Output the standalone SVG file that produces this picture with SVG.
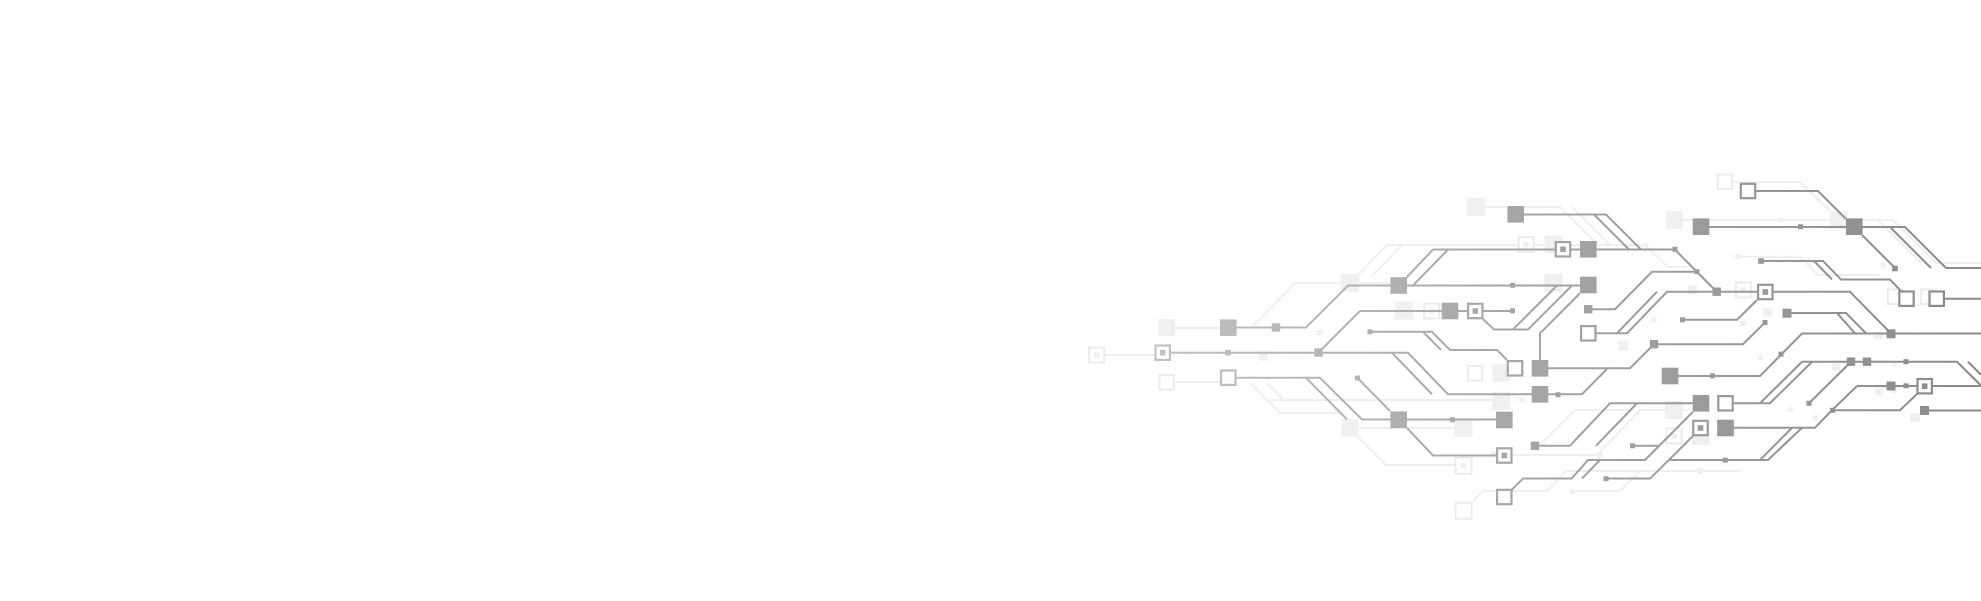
<svg xmlns="http://www.w3.org/2000/svg" width="1981" height="601" viewBox="0 0 1981 601">
<defs>
<linearGradient id="g" gradientUnits="userSpaceOnUse" x1="1150" y1="0" x2="1981" y2="0">
<stop offset="0" stop-color="#c3c3c3"/>
<stop offset="0.42" stop-color="#a7a7a7"/>
<stop offset="1" stop-color="#8a8a8a"/>
</linearGradient>
<style>
.t{fill:none;stroke:url(#g);stroke-width:2}
.lt{fill:none;stroke:#efefef;stroke-width:2}
.f{fill:url(#g)}
.o{fill:#fff;stroke:url(#g);stroke-width:2.2}
.lf{fill:#f0f0f0}
.lo{fill:#fff;stroke:#ececec;stroke-width:2}
</style>
</defs>
<rect width="1981" height="601" fill="#fff"/>
<g id="light-traces">
<path class="lt" d="M1485,207H1507M1524,207H1560L1598,245M1572,207L1610,245"/>
<path class="lt" d="M1387,245H1644M1645,245L1668,267H1687M1387,245L1358,275M1402,245L1372,276"/>
<path class="lt" d="M1390,283.3H1295L1252,327"/>
<path class="lt" d="M1733,182H1800L1830,211M1683,220H1830"/>
<path class="lt" d="M1847,220H1893L1936,263H1981M1878,220L1921,263"/>
<path class="lt" d="M1737,256.7H1800L1818,275H1880"/>
<path class="lt" d="M1105,355H1155M1175,328H1220M1175,382H1220"/>
<path class="lt" d="M1250,383L1280,413H1341M1267,383L1283,399"/>
<path class="lt" d="M1270,400H1492M1359,428H1455M1358,437L1386,465H1455"/>
<path class="lt" d="M1575,410H1633M1575,410L1541,444"/>
<path class="lt" d="M1512,491H1547L1566,471H1740M1575,491H1620L1641,470"/>
<path class="lt" d="M1490,455H1597L1640,410H1690M1472,502L1483,491H1496"/>
</g>
<g id="light-pads">
<rect class="lo" x="1717.8" y="174.5" width="14.4" height="14.4"/>
<rect class="lf" x="1467" y="198" width="18" height="18"/>
<rect class="lf" x="1665.7" y="211.2" width="17.6" height="17.6"/>
<rect class="lf" x="1830" y="211.3" width="17.4" height="17.4"/>
<rect class="lf" x="1778.8" y="217.8" width="4.5" height="4.5"/>
<rect class="lo" x="1518.5" y="237" width="15" height="15"/><rect class="lf" x="1523.2" y="241.7" width="5.6" height="5.6"/>
<rect class="lf" x="1544.5" y="235.5" width="18" height="18"/>
<rect class="lf" x="1643.8" y="242.8" width="4.5" height="4.5"/>
<rect class="lf" x="1341" y="274" width="18" height="18"/>
<rect class="lf" x="1544.5" y="274" width="18" height="18"/>
<rect class="lf" x="1735" y="254" width="5" height="5"/>
<rect class="lo" x="1735.8" y="282.5" width="15" height="15"/><rect class="lf" x="1740.5" y="287.2" width="5.6" height="5.6"/>
<rect class="lf" x="1688" y="285.5" width="9" height="9"/>
<rect class="lf" x="1880.8" y="262.5" width="5" height="5"/>
<rect class="lo" x="1887.8" y="289.5" width="14.4" height="14.4"/>
<rect class="lo" x="1921.1" y="289.5" width="14.4" height="14.4"/>
<rect class="lf" x="1395" y="301.5" width="18" height="18"/>
<rect class="lo" x="1424.2" y="303.5" width="15" height="15"/><rect class="lf" x="1428.9" y="308.2" width="5.6" height="5.6"/>
<rect class="lf" x="1316.5" y="330" width="5" height="5"/>
<rect class="lf" x="1158.2" y="319.2" width="17" height="17"/>
<rect class="lo" x="1089.2" y="347.5" width="15" height="15"/><rect class="lf" x="1093.9" y="352.2" width="5.6" height="5.6"/>
<rect class="lf" x="1258.8" y="351.5" width="9" height="9"/>
<rect class="lo" x="1159.5" y="375.1" width="14.4" height="14.4"/>
<rect class="lo" x="1467.8" y="366.1" width="14.4" height="14.4"/>
<rect class="lf" x="1492.6" y="364.2" width="17.5" height="17.5"/>
<rect class="lf" x="1492.3" y="391.8" width="18" height="18"/>
<rect class="lf" x="1341.2" y="419.2" width="17.5" height="17.5"/>
<rect class="lf" x="1454.5" y="419" width="18" height="18"/>
<rect class="lo" x="1455.5" y="457.8" width="16" height="16"/><rect class="lf" x="1460.7" y="463" width="5.6" height="5.6"/>
<rect class="lf" x="1491.5" y="451.5" width="5" height="5"/>
<rect class="lf" x="1618.3" y="340.8" width="10" height="10"/>
<rect class="lf" x="1651.5" y="317.5" width="5" height="5"/>
<rect class="lf" x="1763.2" y="308.2" width="8.5" height="8.5"/>
<rect class="lf" x="1665" y="401" width="18" height="18"/>
<rect class="lo" x="1666.5" y="428.5" width="15" height="15"/><rect class="lf" x="1671.2" y="433.2" width="5.6" height="5.6"/>
<rect class="lf" x="1691.7" y="427" width="17.6" height="18"/>
<rect class="lf" x="1597" y="452" width="6" height="6"/>
<rect class="lf" x="1697" y="468" width="6" height="6"/>
<rect class="lf" x="1570" y="489" width="5" height="5"/>
<rect class="lo" x="1455.5" y="502.8" width="16" height="16"/>
<rect class="lf" x="1519" y="397.8" width="4.5" height="4.5"/>
<rect class="lf" x="1740" y="320.7" width="6" height="5.3"/>
<rect class="lf" x="1758.3" y="355" width="5" height="5"/>
<rect class="lf" x="1874.3" y="331.7" width="9" height="7.6"/>
<rect class="lf" x="1831.7" y="363.3" width="8.3" height="7"/>
<rect class="lf" x="1891.7" y="361.7" width="5" height="5"/>
<rect class="lf" x="1875" y="387.3" width="8.3" height="7.7"/>
<rect class="lf" x="1891.7" y="388" width="5" height="5"/>
<rect class="lf" x="1910" y="413.3" width="10" height="8.4"/>
<rect class="lf" x="1788" y="407.3" width="5" height="5"/>
<rect class="lf" x="1813" y="415" width="5" height="5"/>
</g>
<g id="connectors">
<path class="t" d="M1756,191H1818L1846,219"/>
<path class="t" d="M1709,227H1846"/>
<path class="t" d="M1854,227H1905L1946,268H1981M1890,227L1931,268"/>
<path class="t" d="M1862,235L1895,268"/>
<path class="t" d="M1761,261H1823L1841,279.5H1890L1901,291M1814,261L1832,279.5"/>
<path class="t" d="M1937,298.7H1981"/>
<path class="t" d="M1516,214.5H1606L1641,249.5M1594,214.5L1629,249.5"/>
<path class="t" d="M1433,249.5H1675L1697,272L1717,292"/>
<path class="t" d="M1433,249.5L1399,285.5M1448,249.5L1413,285.5"/>
<path class="t" d="M1228,327.5H1306L1348,285.5H1588"/>
<path class="t" d="M1513,329.5L1557,285.5M1483,319L1494,329.5H1528L1572,285.5"/>
<path class="t" d="M1360,311H1512M1360,311L1318.5,352.5"/>
<path class="t" d="M1163,352.7H1408L1448,394.3H1582L1607,369M1392,352.7L1432,394.3"/>
<path class="t" d="M1370,331.7H1432L1450,350H1497L1507,360M1423,331.7L1441,350"/>
<path class="t" d="M1540,368.3V333.3L1580,293.3M1540,368.3H1630L1654,344.2H1743L1765,322.5"/>
<path class="t" d="M1588,333.3H1627L1667,291.7H1850L1891,333.5M1617,333.3L1657,291.7"/>
<path class="t" d="M1588,309.3H1615L1652,271.7H1697"/>
<path class="t" d="M1682.5,319.8H1737L1757,300"/>
<path class="t" d="M1787,313H1846L1866,333.3M1837,313L1855,333.3"/>
<path class="t" d="M1670,376H1760L1802,333.5H1981"/>
<path class="t" d="M1802,361.7H1957L1981,385.5M1968,361.7L1981,374.7"/>
<path class="t" d="M1725,403.3H1770L1812,361.7M1760,403.3L1802,361.7M1809,403.3L1851,361.7"/>
<path class="t" d="M1857,386H1981M1857,386L1832,410.3H1900L1917,394M1832,410.3L1815,427.7H1725"/>
<path class="t" d="M1924.5,410.6H1981"/>
<path class="t" d="M1670,460H1768L1802,427.7M1760,460L1792,427.7"/>
<path class="t" d="M1228,377.7H1320L1362,419.5H1504M1306,377.7L1347,419.5"/>
<path class="t" d="M1357.5,378L1390,411"/>
<path class="t" d="M1407,428L1433,455.5H1504"/>
<path class="t" d="M1701,403.3H1610L1570,445.8H1535M1637,403.3L1596,445.8"/>
<path class="t" d="M1693,411.7L1645,460H1588L1571.7,478.5H1523L1511,490.5M1600,460L1582,478.5"/>
<path class="t" d="M1632.5,445.8H1659"/>
<path class="t" d="M1693,436L1650,478.6H1606"/>
</g>
<g id="f1"><rect class="f" x="1507.4" y="206" width="16.6" height="16.6"/></g>
<g id="f2"><rect class="f" x="1580" y="241" width="16.6" height="16.6"/></g>
<g id="f3"><rect class="f" x="1692.7" y="218.4" width="16.6" height="16.6"/></g>
<g id="f4"><rect class="f" x="1846" y="218.4" width="16.6" height="16.6"/></g>
<g id="f5"><rect class="f" x="1390.4" y="277.2" width="16.6" height="16.6"/></g>
<g id="f6"><rect class="f" x="1580" y="276.7" width="16.6" height="16.6"/></g>
<g id="f7"><rect class="f" x="1441.7" y="302.7" width="16.6" height="16.6"/></g>
<g id="f8"><rect class="f" x="1220" y="319.4" width="16.6" height="16.6"/></g>
<g id="f9"><rect class="f" x="1531.7" y="360" width="16.6" height="16.6"/></g>
<g id="f10"><rect class="f" x="1531.7" y="386" width="16.6" height="16.6"/></g>
<g id="f11"><rect class="f" x="1661.7" y="367.7" width="16.6" height="16.6"/></g>
<g id="f12"><rect class="f" x="1390.4" y="411.4" width="16.6" height="16.6"/></g>
<g id="f13"><rect class="f" x="1496" y="411.7" width="16.6" height="16.6"/></g>
<g id="f14"><rect class="f" x="1692.7" y="395" width="16.6" height="16.6"/></g>
<g id="f15"><rect class="f" x="1717.2" y="419.7" width="16.6" height="16.6"/></g>
<g id="m1"><rect class="f" x="1712.5" y="287.5" width="8.4" height="8.4"/></g>
<g id="m2"><rect class="f" x="1314.3" y="348.3" width="8.4" height="8.4"/></g>
<g id="m3"><rect class="f" x="1271.8" y="323.3" width="8.4" height="8.4"/></g>
<g id="m4"><rect class="f" x="1649.8" y="340" width="8.4" height="8.4"/></g>
<g id="m5"><rect class="f" x="1782.5" y="308.7" width="9" height="9"/></g>
<g id="m6"><rect class="f" x="1886.5" y="329.3" width="9" height="9"/></g>
<g id="m7"><rect class="f" x="1846.8" y="357.5" width="8.4" height="8.4"/></g>
<g id="m8"><rect class="f" x="1862.8" y="357.5" width="8.4" height="8.4"/></g>
<g id="m9"><rect class="f" x="1886.5" y="381.5" width="9" height="9"/></g>
<g id="m10"><rect class="f" x="1920" y="406" width="9" height="9"/></g>
<g id="m11"><rect class="f" x="1530.8" y="441.6" width="8.4" height="8.4"/></g>
<g id="m12"><rect class="f" x="1584" y="305" width="8.4" height="8.4"/></g>
<g id="s1"><rect class="f" x="1672.5" y="246.8" width="5" height="5"/></g>
<g id="s2"><rect class="f" x="1694.5" y="269.2" width="5" height="5"/></g>
<g id="s3"><rect class="f" x="1798" y="224.2" width="5" height="5"/></g>
<g id="s4"><rect class="f" x="1892.2" y="265.7" width="5.6" height="5.6"/></g>
<g id="s5"><rect class="f" x="1758.2" y="258.2" width="5.6" height="5.6"/></g>
<g id="s6"><rect class="f" x="1510" y="282.8" width="5" height="5"/></g>
<g id="s7"><rect class="f" x="1510" y="308.3" width="5" height="5"/></g>
<g id="s8"><rect class="f" x="1225.2" y="349.9" width="5.6" height="5.6"/></g>
<g id="s9"><rect class="f" x="1367.5" y="329.2" width="5" height="5"/></g>
<g id="s10"><rect class="f" x="1355" y="375.5" width="5" height="5"/></g>
<g id="s11"><rect class="f" x="1450" y="417.3" width="5" height="5"/></g>
<g id="s12"><rect class="f" x="1555.5" y="392.2" width="5" height="5"/></g>
<g id="s13"><rect class="f" x="1680" y="317.3" width="5" height="5"/></g>
<g id="s14"><rect class="f" x="1762.5" y="320" width="5" height="5"/></g>
<g id="s15"><rect class="f" x="1778.5" y="351.7" width="5" height="5"/></g>
<g id="s16"><rect class="f" x="1710" y="373.3" width="5" height="5"/></g>
<g id="s17"><rect class="f" x="1903.5" y="359.2" width="5" height="5"/></g>
<g id="s18"><rect class="f" x="1903.5" y="383.3" width="5" height="5"/></g>
<g id="s19"><rect class="f" x="1806.5" y="400.8" width="5" height="5"/></g>
<g id="s20"><rect class="f" x="1830" y="407.8" width="5" height="5"/></g>
<g id="s21"><rect class="f" x="1722.8" y="457.7" width="5" height="5"/></g>
<g id="s22"><rect class="f" x="1630" y="443.3" width="5" height="5"/></g>
<g id="s23"><rect class="f" x="1603.5" y="476.2" width="5" height="5"/></g>
<g id="o1"><rect class="o" x="1740.8" y="183.8" width="14.4" height="14.4"/></g>
<g id="o2"><rect class="o" x="1899.3" y="291.5" width="14.4" height="14.4"/></g>
<g id="o3"><rect class="o" x="1929.5" y="291.5" width="14.4" height="14.4"/></g>
<g id="o4"><rect class="o" x="1221.1" y="370.5" width="14.4" height="14.4"/></g>
<g id="o5"><rect class="o" x="1507.8" y="361.1" width="14.4" height="14.4"/></g>
<g id="o6"><rect class="o" x="1581.1" y="326.1" width="14.4" height="14.4"/></g>
<g id="o7"><rect class="o" x="1718.3" y="396.1" width="14.4" height="14.4"/></g>
<g id="o8"><rect class="o" x="1497.1" y="489.8" width="14.4" height="14.4"/></g>
<g id="oi1"><rect class="o" x="1555.8" y="242.1" width="14.4" height="14.4"/><rect class="f" x="1560.2" y="246.5" width="5.6" height="5.6"/></g>
<g id="oi2"><rect class="o" x="1758.1" y="284.8" width="14.4" height="14.4"/><rect class="f" x="1762.5" y="289.2" width="5.6" height="5.6"/></g>
<g id="oi3"><rect class="o" x="1468.1" y="303.8" width="14.4" height="14.4"/><rect class="f" x="1472.5" y="308.2" width="5.6" height="5.6"/></g>
<g id="oi4"><rect class="o" x="1155.5" y="345.5" width="14.4" height="14.4"/><rect class="f" x="1159.9" y="349.9" width="5.6" height="5.6"/></g>
<g id="oi5"><rect class="o" x="1917.5" y="379" width="14.4" height="14.4"/><rect class="f" x="1921.9" y="383.4" width="5.6" height="5.6"/></g>
<g id="oi6"><rect class="o" x="1693.3" y="420.8" width="14.4" height="14.4"/><rect class="f" x="1697.7" y="425.2" width="5.6" height="5.6"/></g>
<g id="oi7"><rect class="o" x="1497.1" y="448.3" width="14.4" height="14.4"/><rect class="f" x="1501.5" y="452.7" width="5.6" height="5.6"/></g>
</svg>
